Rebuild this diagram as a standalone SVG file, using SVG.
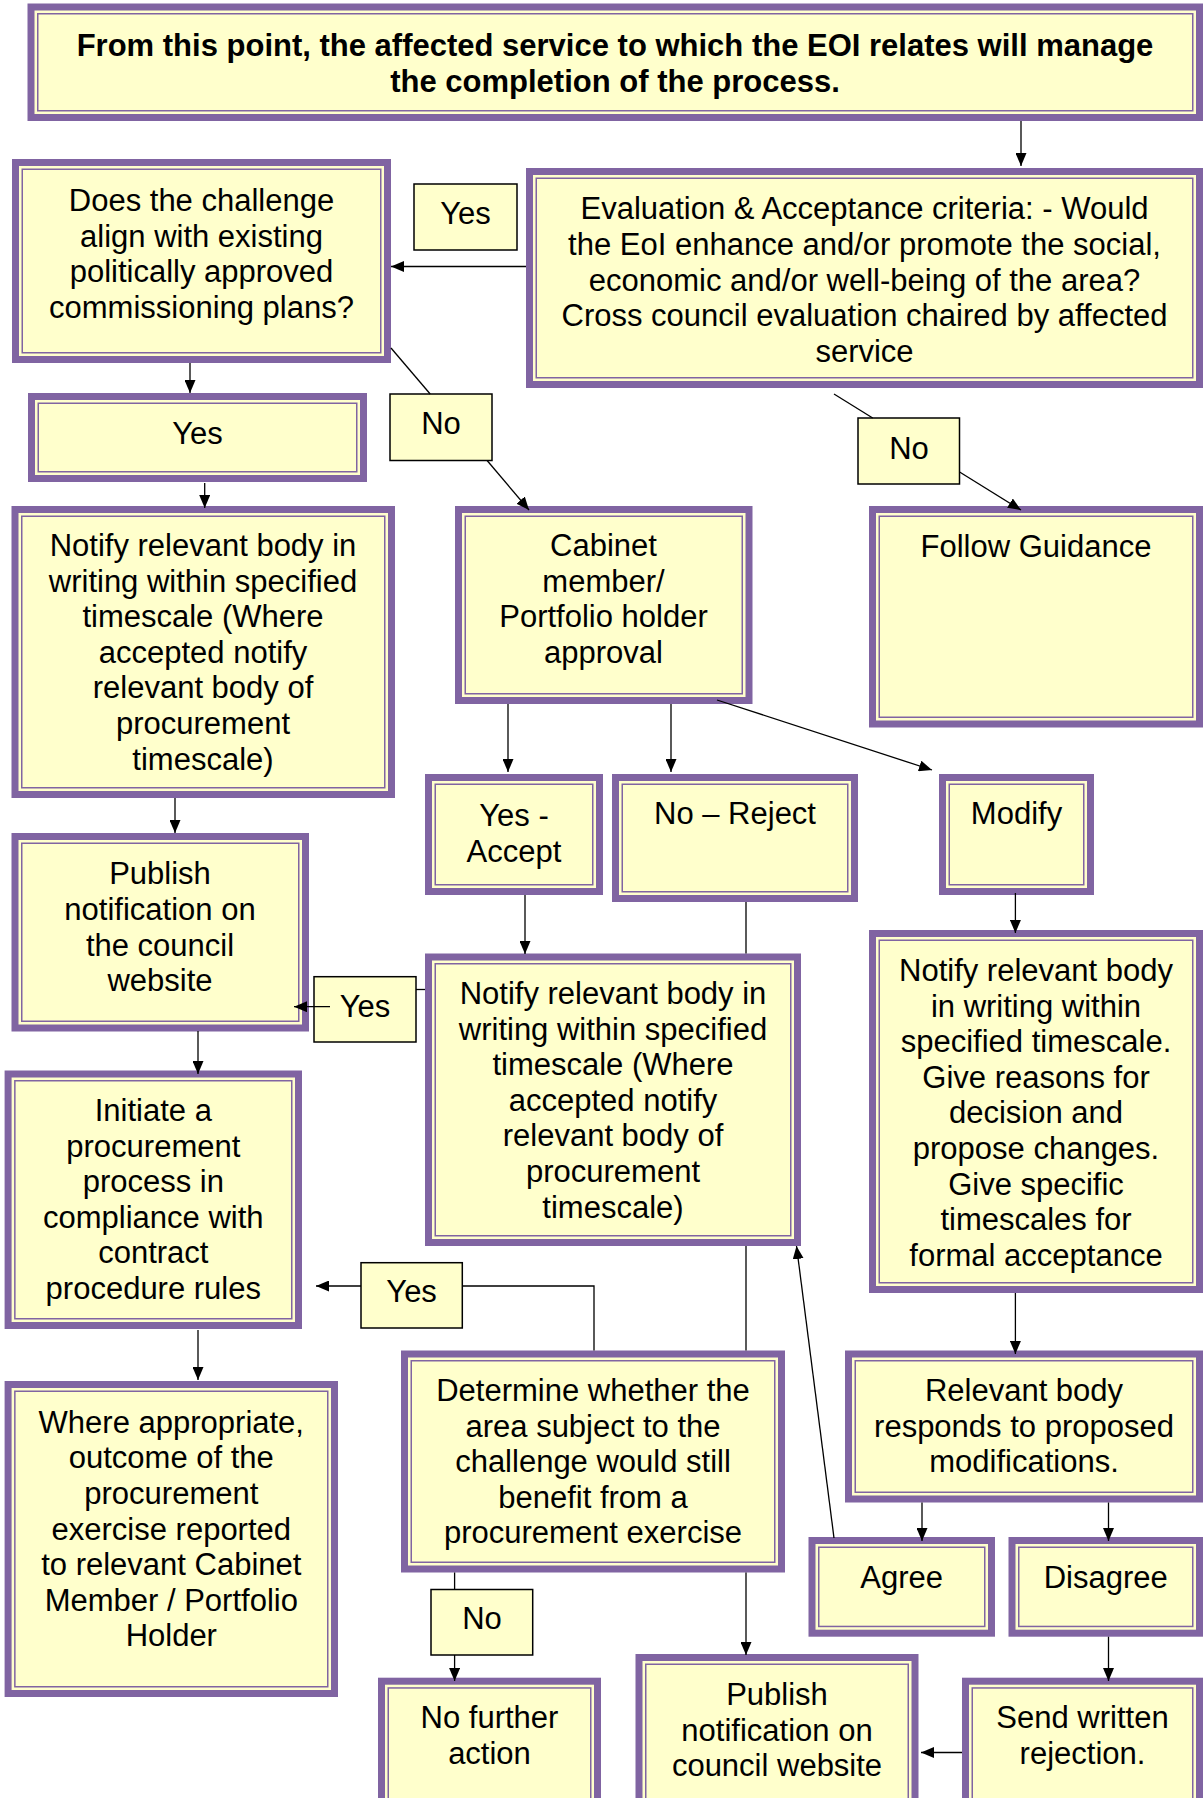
<svg xmlns="http://www.w3.org/2000/svg" width="1203" height="1798" viewBox="0 0 1203 1798">
  <defs>
    <style>
      .box .o { fill: #FFFFCC; stroke: #8064A2; stroke-width: 7; }
      .box .i { fill: none; stroke: #8064A2; stroke-width: 1.5; }
      .lbl rect { fill: #FFFFCC; stroke: #000; stroke-width: 1.5; }
      text { font-family: "Liberation Sans", Arial, Helvetica, sans-serif; font-size: 31px; fill: #000; text-anchor: middle; transform: translate(0px, 1px); }
      .bold { font-weight: bold; }
      .conn path { fill: none; stroke: #000; stroke-width: 1.3; }
    </style>
    <marker id="ah" viewBox="0 0 13 11" refX="13" refY="5.5" markerWidth="13" markerHeight="11" markerUnits="userSpaceOnUse" orient="auto">
      <path d="M0,0 L13,5.5 L0,11 z" fill="#000"/>
    </marker>
  </defs>

  <rect width="1203" height="1798" fill="#fff"/>

  <!-- process boxes: thick purple frame with a thin inner rule -->
  <g id="n-intro" class="box">
    <rect class="o" x="31" y="7" width="1168.5" height="110.5"/>
    <rect class="i" x="37.75" y="13.75" width="1155" height="97"/>
    <text class="bold" x="615" y="55">From this point, the affected service to which the EOI relates will manage</text>
    <text class="bold" x="615" y="90.6">the completion of the process.</text>
  </g>

  <g id="n-align" class="box">
    <rect class="o" x="15.5" y="162.5" width="372" height="197"/>
    <rect class="i" x="22.25" y="169.25" width="358.5" height="183.5"/>
    <text x="201.5" y="210">Does the challenge</text>
    <text x="201.5" y="245.6">align with existing</text>
    <text x="201.5" y="281.2">politically approved</text>
    <text x="201.5" y="316.8">commissioning plans?</text>
  </g>

  <g id="n-evaluation" class="box">
    <rect class="o" x="529.5" y="171.5" width="670" height="213"/>
    <rect class="i" x="536.25" y="178.25" width="656.5" height="199.5"/>
    <text x="864.5" y="218.3">Evaluation &amp; Acceptance criteria: - Would</text>
    <text x="864.5" y="253.9">the EoI enhance and/or promote the social,</text>
    <text x="864.5" y="289.5">economic and/or well-being of the area?</text>
    <text x="864.5" y="325.1">Cross council evaluation chaired by affected</text>
    <text x="864.5" y="360.7">service</text>
  </g>

  <g id="n-yes" class="box">
    <rect class="o" x="31.5" y="396.5" width="332" height="82"/>
    <rect class="i" x="38.25" y="403.25" width="318.5" height="68.5"/>
    <text x="197.5" y="443">Yes</text>
  </g>

  <g id="n-notify-left" class="box">
    <rect class="o" x="15" y="509.5" width="376.5" height="285"/>
    <rect class="i" x="21.75" y="516.25" width="363" height="271.5"/>
    <text x="203" y="555">Notify relevant body in</text>
    <text x="203" y="590.6">writing within specified</text>
    <text x="203" y="626.2">timescale (Where</text>
    <text x="203" y="661.8">accepted notify</text>
    <text x="203" y="697.4">relevant body of</text>
    <text x="203" y="733">procurement</text>
    <text x="203" y="768.6">timescale)</text>
  </g>

  <g id="n-cabinet" class="box">
    <rect class="o" x="458.5" y="509.5" width="290.5" height="191"/>
    <rect class="i" x="465.25" y="516.25" width="277" height="177.5"/>
    <text x="603.5" y="555">Cabinet</text>
    <text x="603.5" y="590.6">member/</text>
    <text x="603.5" y="626.2">Portfolio holder</text>
    <text x="603.5" y="661.8">approval</text>
  </g>

  <g id="n-guidance" class="box">
    <rect class="o" x="872.5" y="509.5" width="327" height="214.5"/>
    <rect class="i" x="879.25" y="516.25" width="313.5" height="201"/>
    <text x="1036" y="556">Follow Guidance</text>
  </g>

  <g id="n-accept" class="box">
    <rect class="o" x="428.5" y="777.5" width="171" height="114"/>
    <rect class="i" x="435.25" y="784.25" width="157.5" height="100.5"/>
    <text x="514" y="825">Yes -</text>
    <text x="514" y="860.6">Accept</text>
  </g>

  <g id="n-reject" class="box">
    <rect class="o" x="615.5" y="777.5" width="239" height="121"/>
    <rect class="i" x="622.25" y="784.25" width="225.5" height="107.5"/>
    <text x="735" y="823">No – Reject</text>
  </g>

  <g id="n-modify" class="box">
    <rect class="o" x="942.5" y="777.5" width="148" height="114"/>
    <rect class="i" x="949.25" y="784.25" width="134.5" height="100.5"/>
    <text x="1016.5" y="823">Modify</text>
  </g>

  <g id="n-publish-left" class="box">
    <rect class="o" x="15" y="836.5" width="290.5" height="191.5"/>
    <rect class="i" x="21.75" y="843.25" width="277" height="178"/>
    <text x="160" y="883.3">Publish</text>
    <text x="160" y="918.9">notification on</text>
    <text x="160" y="954.5">the council</text>
    <text x="160" y="990.1">website</text>
  </g>

  <g id="n-notify-mid" class="box">
    <rect class="o" x="428.5" y="957" width="369" height="285.5"/>
    <rect class="i" x="435.25" y="963.75" width="355.5" height="272"/>
    <text x="613" y="1003">Notify relevant body in</text>
    <text x="613" y="1038.6">writing within specified</text>
    <text x="613" y="1074.2">timescale (Where</text>
    <text x="613" y="1109.8">accepted notify</text>
    <text x="613" y="1145.4">relevant body of</text>
    <text x="613" y="1181">procurement</text>
    <text x="613" y="1216.6">timescale)</text>
  </g>

  <g id="n-notify-right" class="box">
    <rect class="o" x="872.5" y="933.5" width="327" height="356"/>
    <rect class="i" x="879.25" y="940.25" width="313.5" height="342.5"/>
    <text x="1036" y="980">Notify relevant body</text>
    <text x="1036" y="1015.6">in writing within</text>
    <text x="1036" y="1051.2">specified timescale.</text>
    <text x="1036" y="1086.8">Give reasons for</text>
    <text x="1036" y="1122.4">decision and</text>
    <text x="1036" y="1158">propose changes.</text>
    <text x="1036" y="1193.6">Give specific</text>
    <text x="1036" y="1229.2">timescales for</text>
    <text x="1036" y="1264.8">formal acceptance</text>
  </g>

  <g id="n-initiate" class="box">
    <rect class="o" x="8.1" y="1074" width="290.4" height="251.5"/>
    <rect class="i" x="14.85" y="1080.75" width="276.9" height="238"/>
    <text x="153.3" y="1120">Initiate a</text>
    <text x="153.3" y="1155.6">procurement</text>
    <text x="153.3" y="1191.2">process in</text>
    <text x="153.3" y="1226.8">compliance with</text>
    <text x="153.3" y="1262.4">contract</text>
    <text x="153.3" y="1298">procedure rules</text>
  </g>

  <g id="n-determine" class="box">
    <rect class="o" x="404.5" y="1354" width="377" height="215"/>
    <rect class="i" x="411.25" y="1360.75" width="363.5" height="201.5"/>
    <text x="593" y="1400">Determine whether the</text>
    <text x="593" y="1435.6">area subject to the</text>
    <text x="593" y="1471.2">challenge would still</text>
    <text x="593" y="1506.8">benefit from a</text>
    <text x="593" y="1542.4">procurement exercise</text>
  </g>

  <g id="n-responds" class="box">
    <rect class="o" x="848.5" y="1354" width="351" height="145"/>
    <rect class="i" x="855.25" y="1360.75" width="337.5" height="131.5"/>
    <text x="1024" y="1400">Relevant body</text>
    <text x="1024" y="1435.6">responds to proposed</text>
    <text x="1024" y="1471.2">modifications.</text>
  </g>

  <g id="n-outcome" class="box">
    <rect class="o" x="8.1" y="1384.5" width="326.4" height="309"/>
    <rect class="i" x="14.85" y="1391.25" width="312.9" height="295.5"/>
    <text x="171.3" y="1431.7">Where appropriate,</text>
    <text x="171.3" y="1467.3">outcome of the</text>
    <text x="171.3" y="1502.9">procurement</text>
    <text x="171.3" y="1538.5">exercise reported</text>
    <text x="171.3" y="1574.1">to relevant Cabinet</text>
    <text x="171.3" y="1609.7">Member / Portfolio</text>
    <text x="171.3" y="1645.3">Holder</text>
  </g>

  <g id="n-agree" class="box">
    <rect class="o" x="812" y="1540.5" width="179.5" height="92.7"/>
    <rect class="i" x="818.75" y="1547.25" width="166" height="79.2"/>
    <text x="901.7" y="1586.7">Agree</text>
  </g>

  <g id="n-disagree" class="box">
    <rect class="o" x="1012" y="1540.5" width="187.5" height="92.7"/>
    <rect class="i" x="1018.75" y="1547.25" width="174" height="79.2"/>
    <text x="1105.7" y="1586.7">Disagree</text>
  </g>

  <g id="n-no-action" class="box">
    <rect class="o" x="381.5" y="1681.2" width="216" height="200"/>
    <rect class="i" x="388.25" y="1687.95" width="202.5" height="200"/>
    <text x="489.5" y="1727">No further</text>
    <text x="489.5" y="1762.6">action</text>
  </g>

  <g id="n-publish-bottom" class="box">
    <rect class="o" x="639" y="1657.5" width="276" height="200"/>
    <rect class="i" x="645.75" y="1664.25" width="262.5" height="200"/>
    <text x="777" y="1704">Publish</text>
    <text x="777" y="1739.6">notification on</text>
    <text x="777" y="1775.2">council website</text>
  </g>

  <g id="n-rejection" class="box">
    <rect class="o" x="965.5" y="1681.2" width="234" height="200"/>
    <rect class="i" x="972.25" y="1687.95" width="220.5" height="200"/>
    <text x="1082.5" y="1727">Send written</text>
    <text x="1082.5" y="1762.6">rejection.</text>
  </g>

  <!-- decision labels sitting on the connectors -->
  <g id="l-yes-eval" class="lbl">
    <rect x="414" y="184" width="103" height="66"/>
    <text x="465.5" y="223">Yes</text>
  </g>
  <g id="l-no-align" class="lbl">
    <rect x="390" y="394" width="102" height="66.5"/>
    <text x="441" y="433">No</text>
  </g>
  <g id="l-no-eval" class="lbl">
    <rect x="858" y="418" width="101.5" height="66"/>
    <text x="909" y="458">No</text>
  </g>
  <g id="l-yes-notify" class="lbl">
    <rect x="314" y="976.7" width="102" height="65.3"/>
    <text x="365" y="1015.7">Yes</text>
  </g>
  <g id="l-yes-determine" class="lbl">
    <rect x="361" y="1262.7" width="101.3" height="65.3"/>
    <text x="411.6" y="1301">Yes</text>
  </g>
  <g id="l-no-determine" class="lbl">
    <rect x="431" y="1589.5" width="101.7" height="65.5"/>
    <text x="482" y="1628.3">No</text>
  </g>

  <!-- connectors -->
  <g id="connectors" class="conn">
    <path d="M1021,121 V166" marker-end="url(#ah)"/>
    <path d="M526,266.5 H391" marker-end="url(#ah)"/>
    <path d="M190,363 V393" marker-end="url(#ah)"/>
    <path d="M391,348 L430.2,394"/>
    <path d="M487.1,460.5 L529,510" marker-end="url(#ah)"/>
    <path d="M834,394 L872.7,418"/>
    <path d="M959.6,472 L1021,510" marker-end="url(#ah)"/>
    <path d="M204.7,483 V508" marker-end="url(#ah)"/>
    <path d="M508,704 V772" marker-end="url(#ah)"/>
    <path d="M671,704 V772" marker-end="url(#ah)"/>
    <path d="M717,700 L932,770" marker-end="url(#ah)"/>
    <path d="M175,798 V833" marker-end="url(#ah)"/>
    <path d="M525,895 V954" marker-end="url(#ah)"/>
    <path d="M746,902 V953.5"/>
    <path d="M746,1246 V1350.5"/>
    <path d="M746,1572.5 V1655" marker-end="url(#ah)"/>
    <path d="M425,989.5 H416"/>
    <path d="M330,1006.7 H294" marker-end="url(#ah)"/>
    <path d="M198,1031 V1074" marker-end="url(#ah)"/>
    <path d="M594,1350.5 V1286 H462.3"/>
    <path d="M361,1286 H316" marker-end="url(#ah)"/>
    <path d="M198,1330 V1380" marker-end="url(#ah)"/>
    <path d="M454.6,1572.5 V1589.5"/>
    <path d="M454.6,1655 V1681" marker-end="url(#ah)"/>
    <path d="M1015.4,893 V933" marker-end="url(#ah)"/>
    <path d="M1015.4,1293 V1354" marker-end="url(#ah)"/>
    <path d="M922,1502.5 V1541" marker-end="url(#ah)"/>
    <path d="M1108.5,1502.5 V1541" marker-end="url(#ah)"/>
    <path d="M834,1538 L796.5,1246" marker-end="url(#ah)"/>
    <path d="M1108.5,1636.7 V1681" marker-end="url(#ah)"/>
    <path d="M962,1752.5 H921" marker-end="url(#ah)"/>
  </g>
</svg>
